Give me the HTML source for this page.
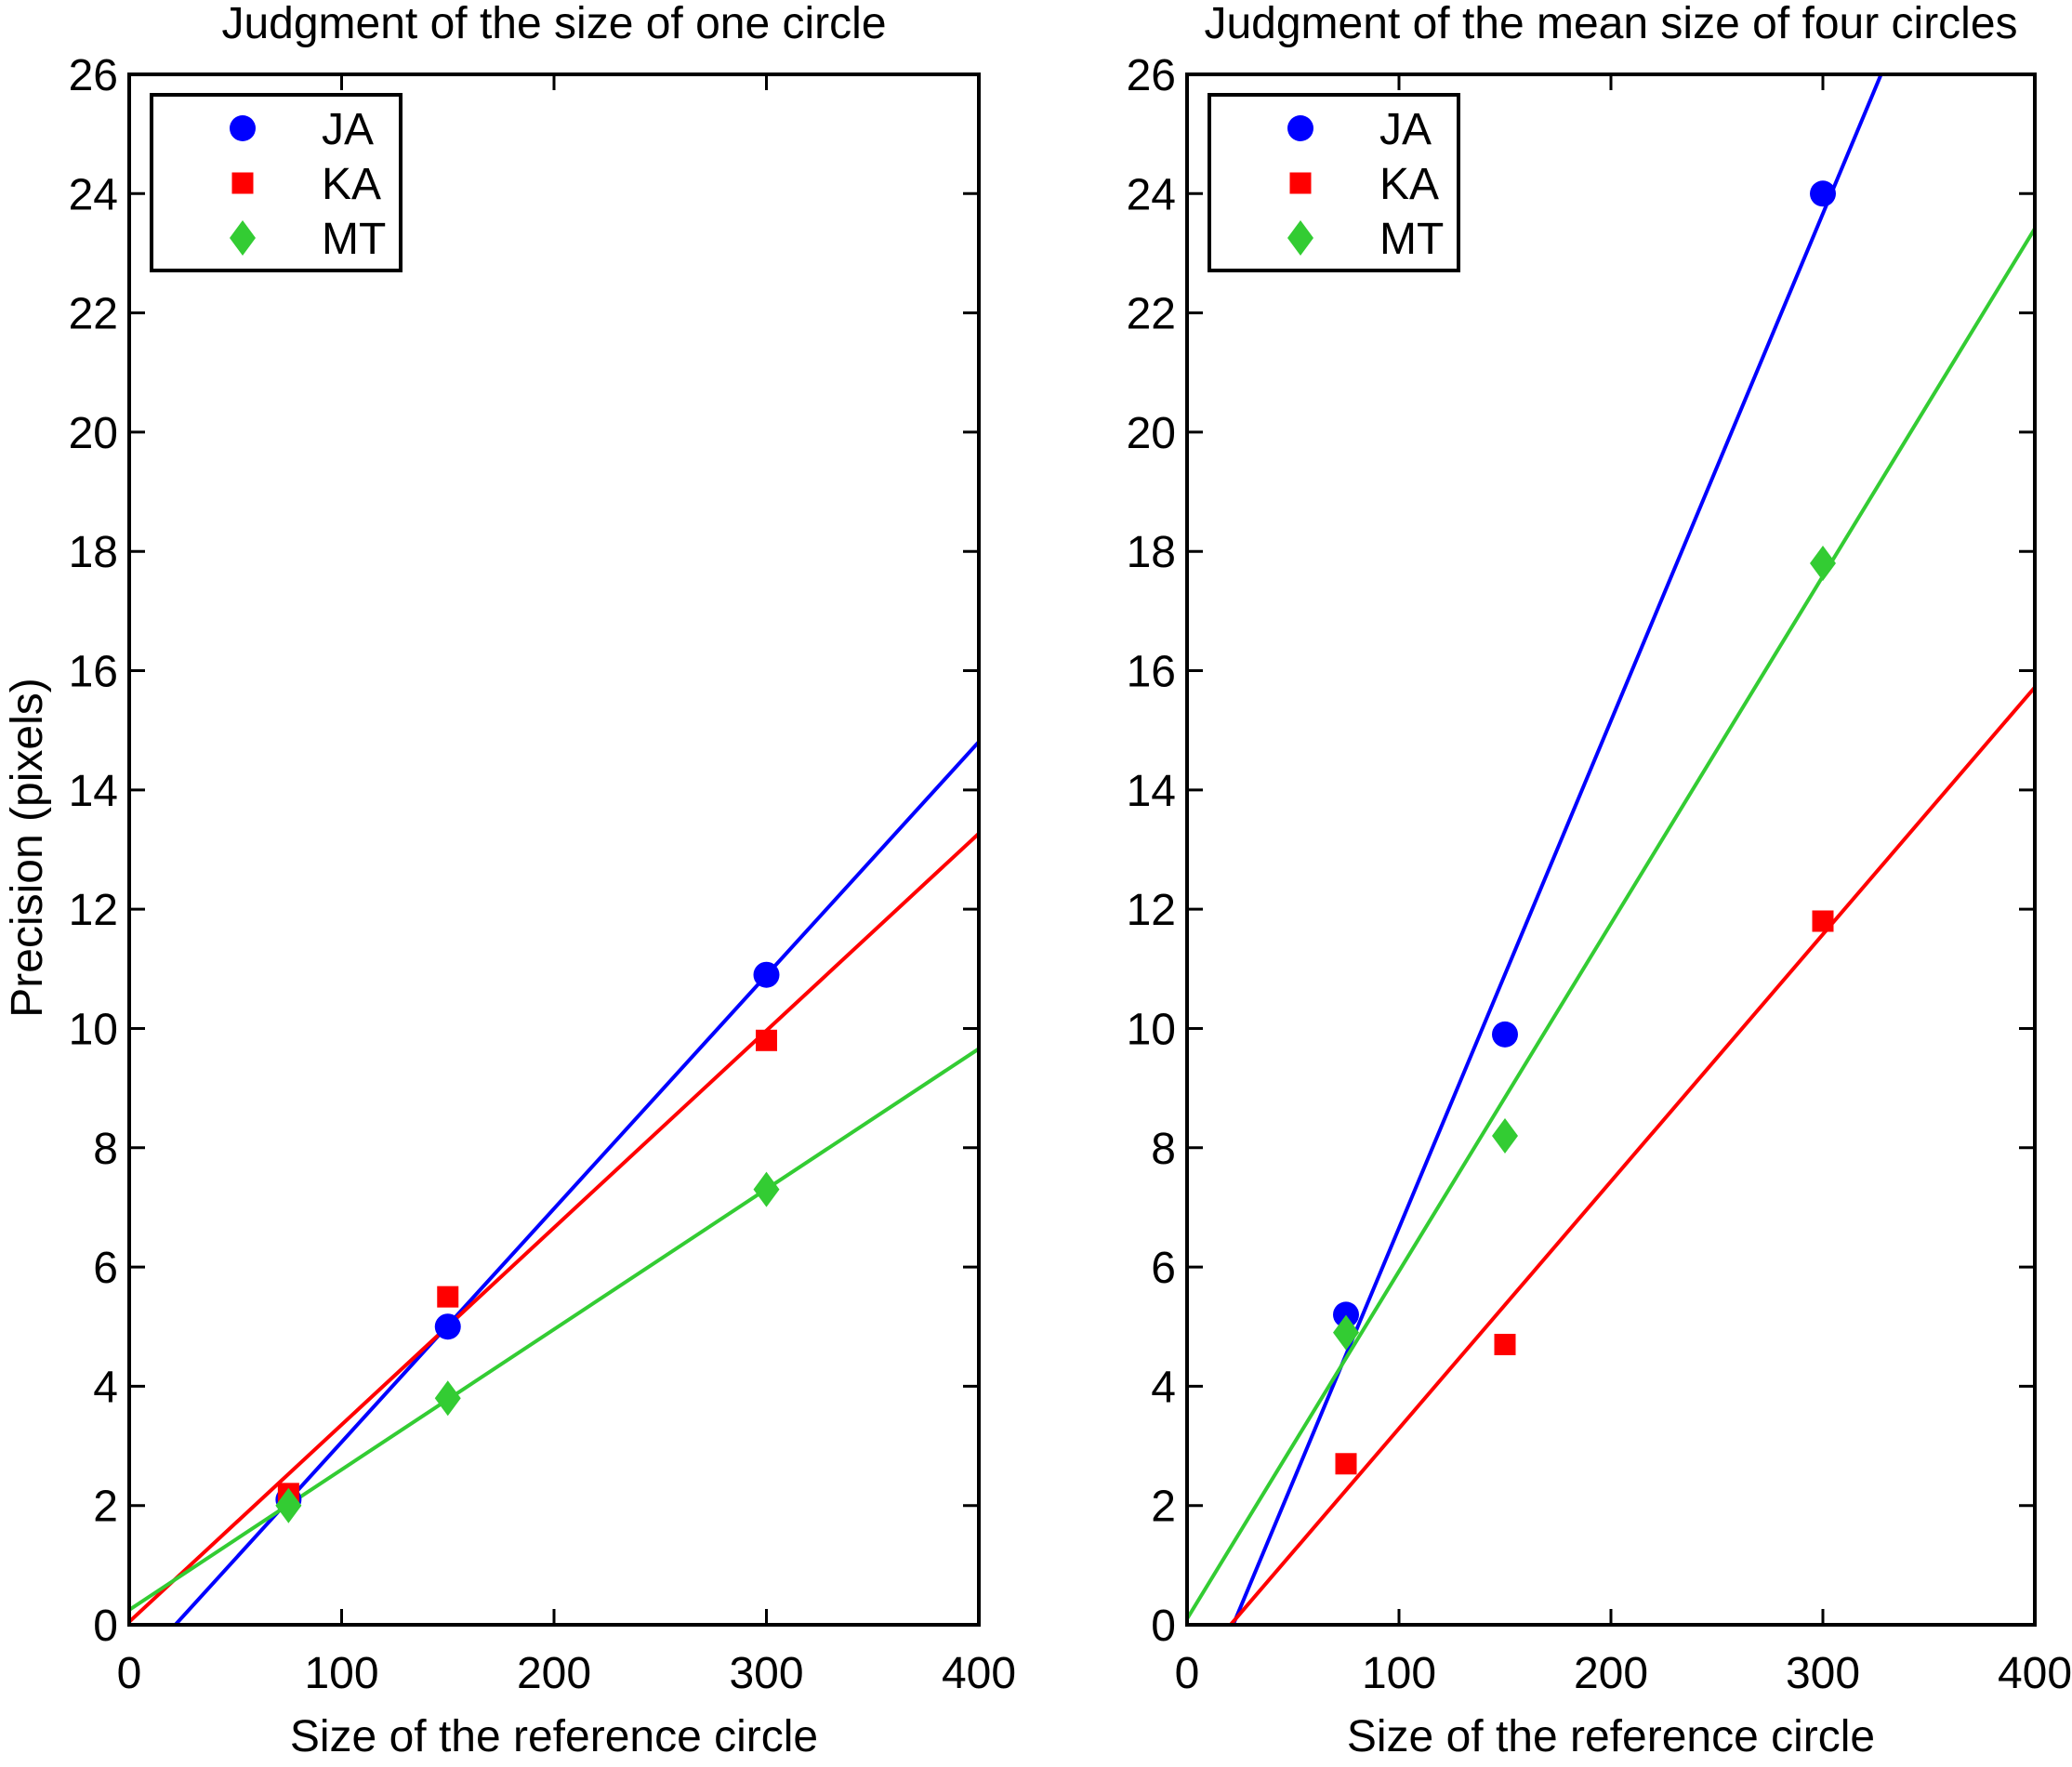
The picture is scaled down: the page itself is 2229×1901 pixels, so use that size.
<!DOCTYPE html>
<html><head><meta charset="utf-8"><style>
html,body{margin:0;padding:0;background:#fff;}
svg{display:block;font-family:"Liberation Sans",Arial,sans-serif;}
</style></head><body>
<svg id="chart" width="2229" height="1901" viewBox="0 0 2229 1901" xmlns="http://www.w3.org/2000/svg"></svg>
<script>
const xTicks = [0, 100, 200, 300, 400];
const yTicks = [0, 2, 4, 6, 8, 10, 12, 14, 16, 18, 20, 22, 24, 26];
const xData = [75, 150, 300];
const seriesNames = ["JA", "KA", "MT"];
const left_JA = [2.1, 5.0, 10.9];
const left_KA = [2.2, 5.5, 9.8];
const left_MT = [2.0, 3.8, 7.3];
const right_JA = [5.2, 9.9, 24.0];
const right_KA = [2.7, 4.7, 11.8];
const right_MT = [4.9, 8.2, 17.8];
const panelTitles = ["Judgment of the size of one circle", "Judgment of the mean size of four circles"];

const NS = "http://www.w3.org/2000/svg";
const svg = document.getElementById("chart");
const colors = {JA: "#0000ff", KA: "#ff0000", MT: "#33cc33"};
const FS = 48;
function mk(tag, attrs, parent) {
  const e = document.createElementNS(NS, tag);
  for (const k in attrs) e.setAttribute(k, attrs[k]);
  (parent || svg).appendChild(e);
  return e;
}
function fit(xs, ys) {
  const n = xs.length, mx = xs.reduce((a,b)=>a+b,0)/n, my = ys.reduce((a,b)=>a+b,0)/n;
  let sxy = 0, sxx = 0;
  for (let i=0;i<n;i++){ sxy += (xs[i]-mx)*(ys[i]-my); sxx += (xs[i]-mx)**2; }
  const m = sxy/sxx; return {m, b: my - m*mx};
}
const panels = [
  {x0: 139, x1: 1053, data: {JA: left_JA, KA: left_KA, MT: left_MT}, ylabel: true, title: panelTitles[0], name: "left"},
  {x0: 1277, x1: 2189, data: {JA: right_JA, KA: right_KA, MT: right_MT}, ylabel: false, title: panelTitles[1], name: "right"}
];
const yTop = 80, yBot = 1748;
function marker(g, s, cx, cy, legend) {
  let e;
  if (s === "JA") e = mk("circle", {cx, cy, r: 14, fill: colors.JA}, g);
  else if (s === "KA") e = mk("rect", {x: cx-11.5, y: cy-11.5, width: 23, height: 23, fill: colors.KA}, g);
  else e = mk("polygon", {points: `${cx},${cy-19} ${cx+14},${cy} ${cx},${cy+19} ${cx-14},${cy}`, fill: colors.MT}, g);
  
  
  return e;
}
panels.forEach(p => {
  const g = mk("g", {});
  
  
  const X = v => p.x0 + (v - 0) / 400 * (p.x1 - p.x0);
  const Y = v => yBot - v / 26 * (yBot - yTop);
  const clip = mk("clipPath", {id: "clip-" + p.name}, g);
  mk("rect", {x: p.x0, y: yTop, width: p.x1 - p.x0, height: yBot - yTop}, clip);
  seriesNames.forEach(s => {
    const f = fit(xData, p.data[s]);
    const l = mk("line", {x1: X(0), y1: Y(f.b), x2: X(400), y2: Y(f.m*400 + f.b), stroke: colors[s], "stroke-width": 4, "clip-path": `url(#clip-${p.name})`}, g);
    
    
  });
  seriesNames.forEach(s => {
    p.data[s].forEach((v, i) => marker(g, s, X(xData[i]), Y(v), false));
  });
  const box = mk("rect", {x: p.x0, y: yTop, width: p.x1 - p.x0, height: yBot - yTop, fill: "none", stroke: "#000", "stroke-width": 4}, g);
  
  
  xTicks.forEach(t => {
    mk("line", {x1: X(t), y1: yBot, x2: X(t), y2: yBot - 17, stroke: "#000", "stroke-width": 3}, g);
    mk("line", {x1: X(t), y1: yTop, x2: X(t), y2: yTop + 17, stroke: "#000", "stroke-width": 3}, g);
    const tx = mk("text", {x: X(t), y: 1816, "font-size": FS, "text-anchor": "middle"}, g);
    tx.textContent = t;
    
    
  });
  yTicks.forEach(t => {
    mk("line", {x1: p.x0, y1: Y(t), x2: p.x0 + 17, y2: Y(t), stroke: "#000", "stroke-width": 3}, g);
    mk("line", {x1: p.x1, y1: Y(t), x2: p.x1 - 17, y2: Y(t), stroke: "#000", "stroke-width": 3}, g);
    const ty = mk("text", {x: p.x0 - 12, y: Y(t) + 17, "font-size": FS, "text-anchor": "end"}, g);
    ty.textContent = t;
    
    
  });
  const title = mk("text", {x: (p.x0 + p.x1) / 2, y: 41, "font-size": FS, "text-anchor": "middle"}, g);
  title.textContent = p.title;
  
  
  const xl = mk("text", {x: (p.x0 + p.x1) / 2, y: 1884, "font-size": FS, "text-anchor": "middle"}, g);
  xl.textContent = "Size of the reference circle";
  
  
  if (p.ylabel) {
    const yl = mk("text", {x: 0, y: 0, "font-size": FS, "text-anchor": "middle", transform: "translate(45,912) rotate(-90)"}, g);
    yl.textContent = "Precision (pixels)";
    
    
  }
  const lg = mk("g", {}, g);
  
  
  const lx = p.x0 + 24;
  mk("rect", {x: lx, y: 102, width: 268, height: 189, fill: "#fff", stroke: "#000", "stroke-width": 4}, lg);
  seriesNames.forEach((s, i) => {
    const cy = 138 + i * 59;
    marker(lg, s, lx + 98, cy, true);
    const t = mk("text", {x: lx + 183, y: cy + 17, "font-size": FS}, lg);
    t.textContent = s;
    
    
  });
});
</script>
</body></html>
